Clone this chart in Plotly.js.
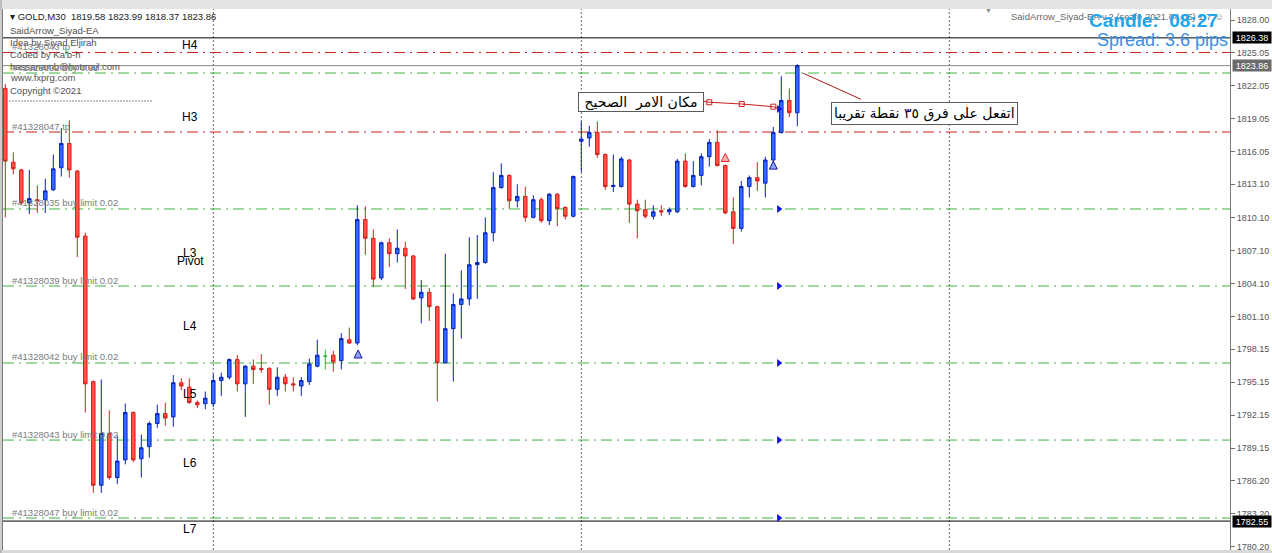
<!DOCTYPE html>
<html><head><meta charset="utf-8">
<script src="https://cdn.plot.ly/plotly-3.0.1.min.js"></script>
<style>html,body{margin:0;padding:0;background:#fff;overflow:hidden}#chart{width:1272px;height:553px}</style>
</head><body><div id="chart"></div>
<script>
// ---------- DATA ----------
const bars = [0,1,2,3,4,5,6,7,8,9,10,11,12,13,14,15,16,17,18,19,20,21,22,23,24,25,26,27,28,29,30,31,32,33,34,35,36,37,38,39,40,41,42,43,44,45,46,47,48,49,50,51,52,53,54,55,56,57,58,59,60,61,62,63,64,65,66,67,68,69,70,71,72,73,74,75,76,77,78,79,80,81,82,83,84,85,86,87,88,89,90,91,92,93,94,95,96,97,98,99];
const openP = [1821.8,1815.1,1814.4,1811.4,1811.7,1811.7,1812.6,1814.6,1816.8,1814.3,
1808.4,1795.2,1785.8,1790.5,1786.5,1788.1,1792.4,1788.2,1789.3,1791.4,
1792.3,1792.0,1795.1,1794.7,1793.3,1793.2,1793.2,1795.3,1795.6,1797.2,
1795.0,1796.6,1796.4,1796.4,1794.5,1795.6,1795.0,1794.8,1795.2,1796.6,
1797.5,1797.6,1797.1,1799.0,1798.7,1809.9,1808.2,1804.6,1807.8,1806.8,
1807.3,1806.6,1802.8,1803.3,1802.0,1796.9,1800.0,1802.2,1802.7,1805.8,
1806.0,1808.7,1812.8,1813.9,1811.6,1812.0,1810.1,1811.7,1809.8,1812.2,
1811.0,1810.2,1817.0,1817.3,1817.8,1815.8,1812.9,1812.9,1815.3,1811.3,
1810.8,1810.2,1810.7,1810.6,1810.6,1815.2,1812.9,1813.9,1815.6,1816.9,
1814.8,1810.6,1809.1,1812.9,1813.7,1813.2,1815.3,1817.8,1820.7,1819.58];
const highP = [1822.2,1816.0,1814.5,1814.4,1813.0,1813.6,1815.8,1818.2,1818.9,1814.4,
1808.7,1795.3,1795.4,1792.6,1790.3,1793.2,1792.5,1790.4,1791.6,1793.1,
1793.3,1795.8,1795.5,1795.5,1793.5,1794.3,1795.9,1796.0,1797.3,1797.6,
1796.7,1797.2,1797.7,1796.5,1796.5,1795.9,1795.6,1795.6,1797.3,1799.0,
1798.1,1798.0,1799.6,1800.1,1811.2,1811.1,1809.0,1807.9,1808.2,1809.0,
1807.9,1806.7,1804.4,1803.7,1802.1,1806.8,1803.2,1805.3,1808.3,1808.5,
1810.1,1814.2,1815.0,1814.0,1813.1,1812.9,1812.1,1811.9,1812.3,1812.3,
1811.1,1813.9,1818.8,1818.4,1818.8,1815.9,1815.8,1815.6,1815.4,1811.7,
1811.7,1811.2,1811.2,1811.0,1815.4,1815.9,1815.2,1815.9,1817.2,1818.0,
1814.9,1811.9,1813.4,1813.9,1815.1,1815.6,1818.3,1822.9,1821.8,1823.99];
const lowP = [1810.1,1814.0,1811.3,1810.4,1810.5,1810.5,1812.5,1813.8,1813.7,1806.5,
1792.4,1785.1,1785.1,1786.3,1785.9,1787.7,1787.9,1786.5,1788.3,1791.0,
1791.2,1791.1,1794.4,1793.2,1792.8,1792.7,1792.9,1793.9,1795.4,1794.3,
1792.0,1795.0,1796.0,1793.1,1793.9,1794.3,1794.3,1793.9,1794.9,1796.5,
1796.3,1796.1,1796.3,1798.6,1798.5,1806.7,1803.8,1804.4,1805.6,1806.0,
1803.6,1802.6,1800.5,1800.7,1793.4,1796.9,1795.2,1799.1,1802.1,1802.7,
1805.9,1807.9,1812.7,1810.9,1811.0,1809.7,1810.0,1809.6,1809.4,1809.3,
1809.9,1810.1,1814.2,1816.5,1815.5,1812.6,1812.4,1812.8,1809.6,1808.2,
1810.0,1809.9,1810.2,1810.3,1810.5,1812.8,1812.8,1813.0,1814.7,1814.7,
1810.4,1807.7,1808.8,1811.9,1812.5,1811.9,1815.0,1817.7,1819.2,1818.37];
const closeP = [1815.2,1814.5,1811.4,1811.8,1811.6,1812.5,1814.5,1816.8,1814.4,1808.3,
1795.0,1785.8,1790.5,1786.5,1788.0,1792.4,1788.1,1789.2,1791.4,1792.3,
1791.9,1795.1,1794.8,1793.3,1793.1,1793.7,1795.3,1795.6,1797.2,1795.0,
1796.6,1796.3,1796.3,1794.5,1795.6,1795.0,1794.9,1795.3,1796.8,1797.6,
1797.5,1797.0,1799.1,1798.7,1809.9,1808.2,1804.5,1807.8,1806.8,1807.3,
1806.6,1802.7,1803.3,1802.0,1796.9,1800.0,1802.2,1802.7,1805.8,1806.0,
1808.7,1812.8,1813.9,1811.6,1812.0,1810.1,1811.7,1809.8,1812.2,1810.9,
1810.2,1813.8,1817.2,1817.8,1815.8,1812.9,1813.0,1815.4,1811.3,1810.7,
1810.2,1810.6,1810.6,1810.8,1815.2,1812.9,1813.9,1815.6,1816.9,1814.8,
1810.5,1809.1,1812.9,1813.7,1813.4,1815.3,1817.8,1820.7,1819.6,1823.86];
const dojiBars = [40];

const daySeparators = [26, 72, 118];

const orderPrices = [1825.05, 1823.19, 1817.84, 1810.86, 1803.87, 1796.89, 1789.90, 1782.83];
const orderKinds  = ['tp','buy','tp','buy','buy','buy','buy','buy'];
const orderLabels = ['#41328043 tp','#41328092 buy 0.02','#41328047 tp','#41328035 buy limit 0.02',
  '#41328039 buy limit 0.02','#41328042 buy limit 0.02','#41328043 buy limit 0.02','#41328047 buy limit 0.02'];

const priceLinePrices = [1826.38, 1823.86, 1782.55];
const priceLineKinds  = ['ask','bid','low'];

const pivotNames  = ['H4','H3','L3','Pivot','L4','L5','L6','L7'];
const pivotPrices = [1825.73, 1819.20, 1806.87, 1806.14, 1800.25, 1794.08, 1787.82, 1781.83];

const tickVals = [1828.00,1825.05,1822.05,1819.05,1816.05,1813.10,1810.10,1807.10,1804.10,1801.10,1798.15,1795.15,1792.15,1789.15,1786.20,1783.20,1780.20];

const headerLines = ['\u25BE GOLD,M30  1819.58 1823.99 1818.37 1823.86','SaidArrow_Siyad-EA','Idea by Siyad Eljirah',
  "Coded by Ka'b-h",'hassanamb@hotmail.com','www.fxprg.com','Copyright \u00A92021'];
const eaTitle = 'SaidArrow_Siyad-EA v.2 (sezfe 2021.04.06) 1.7 \u263A';
const candleTimer = 'Candle:  08:27';
const spreadText = 'Spread: 3.6 pips';

const note1Text = 'مكان الامر  الصحيح';
const note2Text = 'اتفعل على فرق ٣٥ نقطة تقريبا';
const note1LineX = [87.25, 88.0, 92.05, 96.0, 96.7];
const note1LineY = [1820.63, 1820.54, 1820.38, 1820.14, 1819.93];
const note1SquareX = [88.0, 92.05, 96.0];
const note1SquareY = [1820.54, 1820.38, 1820.14];
const note2LineX = [99.75, 106.96];
const note2LineY = [1823.17, 1820.81];

const pendingArrowX = [96.7, 96.7, 96.7, 96.7, 96.7, 96.7];
const pendingArrowY = [1819.93, 1810.86, 1803.87, 1796.89, 1789.90, 1782.83];
const buySignalX = [44.1, 96.0];
const buySignalY = [1798.07, 1815.2];
const sellSignalX = [90.0];
const sellSignalY = [1815.9];

// ---------- LAYOUT HELPERS ----------
const W = 1272, H = 553, PL = 3, PR = 1230, PT = 9, PB = 550;
const px = v => (v - PL) / (PR - PL);
const py = v => (PB - v) / (PB - PT);
const FONT = 'Liberation Sans, Arial, sans-serif';

const mainIdx = bars.filter(b => dojiBars.indexOf(b) < 0);
const pick = (arr, idx) => idx.map(i => arr[bars.indexOf(i)]);

const traces = [
  {type:'candlestick', x: mainIdx, open: pick(openP, mainIdx), high: pick(highP, mainIdx),
   low: pick(lowP, mainIdx), close: pick(closeP, mainIdx), whiskerwidth: 0,
   increasing:{line:{color:'#0a22b0', width:1}, fillcolor:'#2f6ff6'},
   decreasing:{line:{color:'#d21f1f', width:1}, fillcolor:'#fa5842'},
   hoverinfo:'skip', showlegend:false},
  {type:'candlestick', x: dojiBars, open: pick(openP, dojiBars), high: pick(highP, dojiBars),
   low: pick(lowP, dojiBars), close: pick(closeP, dojiBars), whiskerwidth: 0,
   increasing:{line:{color:'#22b422', width:1}, fillcolor:'#22b422'},
   decreasing:{line:{color:'#22b422', width:1}, fillcolor:'#22b422'},
   hoverinfo:'skip', showlegend:false},
  {type:'scatter', mode:'lines', x: note1LineX, y: note1LineY, line:{color:'#c81e1e', width:1}, hoverinfo:'skip', showlegend:false},
  {type:'scatter', mode:'markers', x: note1SquareX, y: note1SquareY, marker:{symbol:'square-open', size:5, color:'#c81e1e', line:{width:1}}, hoverinfo:'skip', showlegend:false},
  {type:'scatter', mode:'lines', x: note2LineX, y: note2LineY, line:{color:'#b01818', width:1}, hoverinfo:'skip', showlegend:false},
  {type:'scatter', mode:'markers', x: pendingArrowX, y: pendingArrowY, marker:{symbol:'triangle-right', size:7, color:'#1414dc'}, hoverinfo:'skip', showlegend:false},
  {type:'scatter', mode:'markers', x: buySignalX, y: buySignalY, marker:{symbol:'arrow-up', size:8, color:'#8aa4f2', line:{color:'#1a1aa0', width:1}}, hoverinfo:'skip', showlegend:false},
  {type:'scatter', mode:'markers', x: sellSignalX, y: sellSignalY, marker:{symbol:'arrow-up', size:8, color:'#ffb4b4', line:{color:'#e02020', width:1}}, hoverinfo:'skip', showlegend:false}
];

const shapes = [];
// window frame strips
shapes.push({type:'rect', xref:'paper', yref:'paper', x0:-0.01, x1:1.04, y0:1, y1:1+PT/(PB-PT), fillcolor:'#e4e4e4', line:{width:0}, layer:'above'});
shapes.push({type:'rect', xref:'paper', yref:'paper', x0:-0.01, x1:1.04, y0:-(H-PB)/(PB-PT), y1:0, fillcolor:'#d8d8d8', line:{width:0}, layer:'above'});
shapes.push({type:'line', xref:'paper', yref:'paper', x0:px(1), x1:px(1), y0:-0.01, y1:1.02, line:{color:'#9a9a9a', width:1}, layer:'above'});
// day separators
daySeparators.forEach(d => shapes.push({type:'line', xref:'x', yref:'paper', x0:d, x1:d, y0:0, y1:1,
  line:{color:'#6a6a6a', width:1, dash:'2px,2px'}, layer:'below'}));
// order lines
orderPrices.forEach((p, i) => shapes.push({type:'line', xref:'paper', yref:'y', x0:0, x1:1, y0:p, y1:p,
  line:{color: orderKinds[i] === 'tp' ? '#cc1f1f' : '#3fb23f', width:1, dash:'11px,5px,2px,5px'}, layer:'below'}));
// price lines
priceLinePrices.forEach((p, i) => shapes.push({type:'line', xref:'paper', yref:'y', x0:0, x1:1, y0:p, y1:p,
  line:{color: priceLineKinds[i] === 'bid' ? '#8a8a8a' : '#000000', width:1}, layer:'below'}));
// dashed separator under header
shapes.push({type:'line', xref:'paper', yref:'paper', x0:px(9), x1:px(153), y0:py(101), y1:py(101),
  line:{color:'#8a8a8a', width:1, dash:'2px,1px'}});

const annotations = [];
headerLines.forEach((t, i) => annotations.push({xref:'paper', yref:'paper', x:px(8), y:py([16,30,42,54,66,78,90][i]),
  xanchor:'left', yanchor:'middle', text:t, showarrow:false, font:{family:FONT, size:9.5, color: i===0 ? '#202020' : '#505050'}}));
orderLabels.forEach((t, i) => annotations.push({xref:'paper', yref:'y', x:px(10), y:orderPrices[i], yshift:6,
  xanchor:'left', yanchor:'middle', text:t, showarrow:false, font:{family:FONT, size:9.5, color:'#7c7c7c'}}));
pivotNames.forEach((t, i) => annotations.push({xref:'paper', yref:'y', x:px(190), y:pivotPrices[i],
  xanchor:'center', yanchor:'middle', text:t, showarrow:false, font:{family:FONT, size:12, color:'#000'}}));
// EA title + timers
annotations.push({xref:'paper', yref:'paper', x:px(1226), y:py(17), xanchor:'right', yanchor:'middle', text:eaTitle,
  showarrow:false, font:{family:FONT, size:9.5, color:'#6a6a6a'}});
annotations.push({xref:'paper', yref:'paper', x:px(1220), y:py(21), xanchor:'right', yanchor:'middle', text:candleTimer,
  showarrow:false, font:{family:FONT, size:19, color:'#1ea6ee', weight:'bold'}});
annotations.push({xref:'paper', yref:'paper', x:px(1230), y:py(40), xanchor:'right', yanchor:'middle', text:spreadText,
  showarrow:false, font:{family:FONT, size:18, color:'#3a8fe4'}});
// chart shift marker
annotations.push({xref:'paper', yref:'paper', x:px(988), y:py(10), xanchor:'center', yanchor:'middle', text:'\u25BC',
  showarrow:false, font:{family:FONT, size:7, color:'#8a8a8a'}});
// Arabic notes
annotations.push({xref:'paper', yref:'paper', x:px(641), y:py(101.5), xanchor:'center', yanchor:'middle', text:note1Text,
  showarrow:false, bgcolor:'#ffffff', bordercolor:'#5a5a5a', borderwidth:1, borderpad:1, width:122, height:16,
  font:{family:'DejaVu Sans, sans-serif', size:14, color:'#000'}});
annotations.push({xref:'paper', yref:'paper', x:px(924.5), y:py(113.5), xanchor:'center', yanchor:'middle', text:note2Text,
  showarrow:false, bgcolor:'#ffffff', bordercolor:'#5a5a5a', borderwidth:1, borderpad:2,
  font:{family:'DejaVu Sans, sans-serif', size:14, color:'#000'}});
// price boxes on the right axis
priceLinePrices.forEach((p, i) => annotations.push({xref:'paper', yref:'y', x:1, xshift:2, y:p, xanchor:'left', yanchor:'middle',
  text:p.toFixed(2), showarrow:false, bgcolor: priceLineKinds[i] === 'bid' ? '#6b6b6b' : '#000000', borderpad:1,
  width:36, height:9, font:{family:FONT, size:9, color:'#ffffff'}}));

const layout = {
  width: W, height: H,
  margin:{l:PL, r:W-PR, t:PT, b:H-PB, pad:0},
  paper_bgcolor:'#ffffff', plot_bgcolor:'#ffffff',
  showlegend:false, hovermode:false, boxgap:0.38,
  xaxis:{range:[(PL-5.3)/8, (PR-5.3)/8], showticklabels:false, showgrid:false, zeroline:false,
    showline:true, mirror:true, linecolor:'#7a7a7a', linewidth:1, ticks:'', rangeslider:{visible:false}, fixedrange:true},
  yaxis:{range:[1828 - (PB-20)/11.025, 1828 + (20-PT)/11.025], side:'right', showgrid:false, zeroline:false,
    showline:true, mirror:true, linecolor:'#7a7a7a', linewidth:1,
    tickmode:'array', tickvals: tickVals, ticktext: tickVals.map(v => v.toFixed(2)),
    ticks:'outside', ticklen:4, tickcolor:'#707070', tickfont:{family:FONT, size:9, color:'#555555'}, fixedrange:true},
  shapes: shapes, annotations: annotations
};

Plotly.newPlot('chart', traces, layout, {displayModeBar:false, staticPlot:true});
</script>
</body></html>
